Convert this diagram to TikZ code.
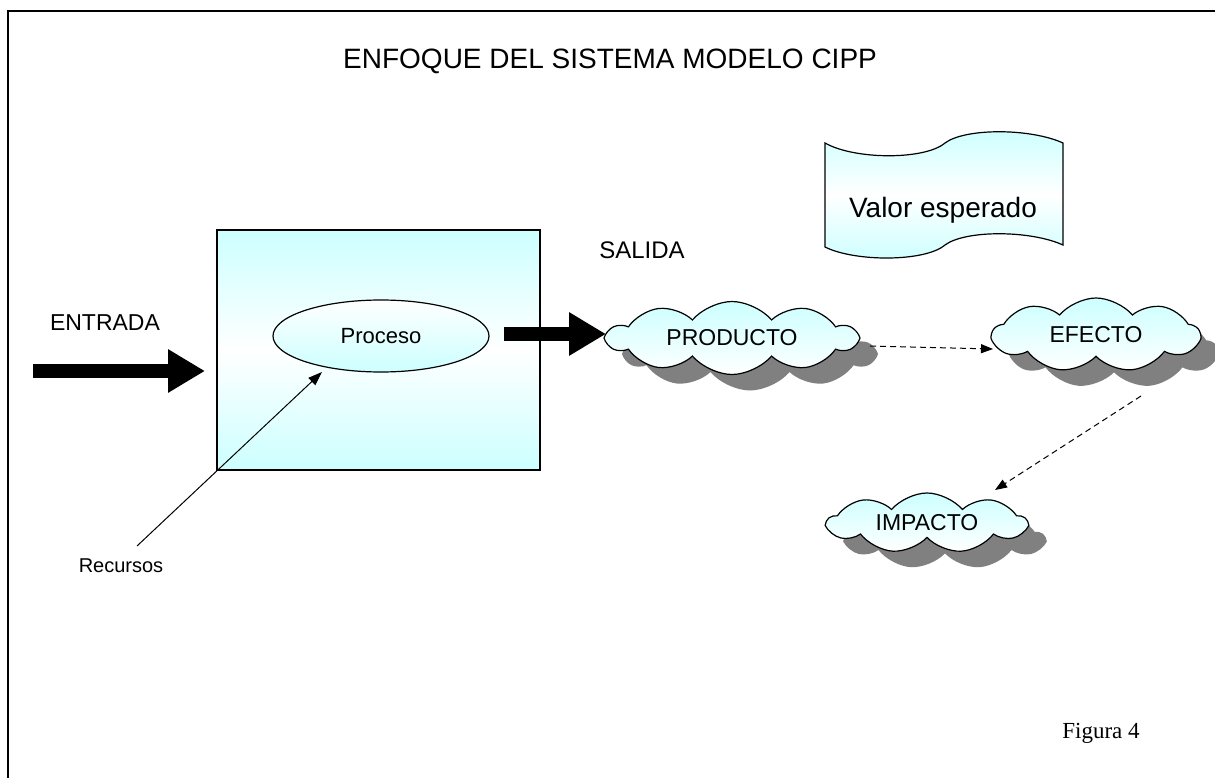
\documentclass[tikz,border=0pt]{standalone}
\usepackage{fontspec}
\setmainfont{Liberation Sans}
\newfontfamily\timesfont{Liberation Serif}
\usetikzlibrary{shapes.symbols,shapes.geometric,shadows,arrows.meta}
\definecolor{lcyan}{HTML}{CCFFFF}
\definecolor{shgray}{HTML}{808080}
\tikzset{
  lbl/.style={inner sep=0pt, font=\fontsize{23}{27}\selectfont},
  cloudbox/.style={cloud, cloud puffs=10, cloud puff arc=100, cloud ignores aspect,
     draw, line width=1.2pt,
     top color=lcyan, bottom color=white, inner sep=0pt,
     font=\fontsize{23}{27}\selectfont,
     drop shadow={shadow xshift=18pt, shadow yshift=-16pt, fill=shgray, opacity=1}},
  blockarrow/.style={line width=14pt, -{Triangle[width=41pt,length=37pt]}},
  dasharrow/.style={line width=1pt, dash pattern=on 6pt off 4pt, -{Triangle[width=9pt,length=12pt]}},
  thinarrow/.style={line width=1pt, -{Triangle[width=10pt,length=14pt]}}
}
\begin{document}
\begin{tikzpicture}[x=1pt,y=-1pt]
\useasboundingbox (0,0) rectangle (1215,778);
% frame
\draw[line width=2.5pt] (8,778) -- (8,11) -- (1215,11);
% title
\node[lbl, anchor=base west, font=\fontsize{28}{32}\selectfont] (title) at (343,69) {ENFOQUE DEL SISTEMA MODELO CIPP};
% process box
\node[draw, line width=1.2pt, minimum width=323pt, minimum height=240pt, inner sep=0pt,
      top color=lcyan, bottom color=lcyan, middle color=white] (box) at (378.5,350) {};
\node[ellipse, draw, line width=1.2pt, minimum width=216pt, minimum height=72pt, inner sep=0pt,
      top color=white, bottom color=lcyan, font=\fontsize{22}{26}\selectfont] (proc) at (381,336) {Proceso};
% ENTRADA
\node[lbl] (entrada) at (105,323) {ENTRADA};
\coordinate (inS) at (33,371);
\coordinate (inE) at (205,371);
\draw[blockarrow] (inS) -- (inE);
% SALIDA
\node[lbl, font=\fontsize{24}{28}\selectfont] (salida) at (642,250) {SALIDA};
\coordinate (outS) at (504,334);
\coordinate (outE) at (606,334);
\draw[blockarrow] (outS) -- (outE);
% Recursos
\node[lbl, font=\fontsize{20}{24}\selectfont] (rec) at (121,566) {Recursos};
\coordinate (recS) at (137,546);
\coordinate (recE) at (322,372);
\draw[thinarrow] (recS) -- (recE);
% clouds
\node[cloudbox, minimum width=249pt, minimum height=73pt] (prod) at (732,338) {PRODUCTO};
\node[cloudbox, cloud puffs=9, minimum width=207pt, minimum height=74pt] (efe) at (1096,335) {EFECTO};
\node[cloudbox, cloud puffs=9, minimum width=199pt, minimum height=60pt] (imp) at (927,523) {IMPACTO};
\coordinate (d1s) at (870,346);
\coordinate (d1e) at (993,349);
\draw[dasharrow] (d1s) -- (d1e);
\coordinate (d2s) at (1141,396);
\coordinate (d2e) at (995,490);
\draw[dasharrow] (d2s) -- (d2e);
% Valor esperado
\path[draw, line width=1.2pt, top color=lcyan, bottom color=lcyan, middle color=white]
  (825,143) .. controls (855,160) and (925,160) .. (945,143)
  .. controls (965,128) and (1030,128) .. (1063,143)
  -- (1063,245)
  .. controls (1030,230) and (965,230) .. (945,245)
  .. controls (925,262) and (855,262) .. (825,247) -- cycle;
\node[lbl, font=\fontsize{28}{32}\selectfont] (valor) at (943,210) {Valor esperado};
% Figura 4
\node[inner sep=0pt, font=\timesfont\fontsize{23}{27}\selectfont] (fig) at (1101,733) {Figura 4};
\end{tikzpicture}
\end{document}
